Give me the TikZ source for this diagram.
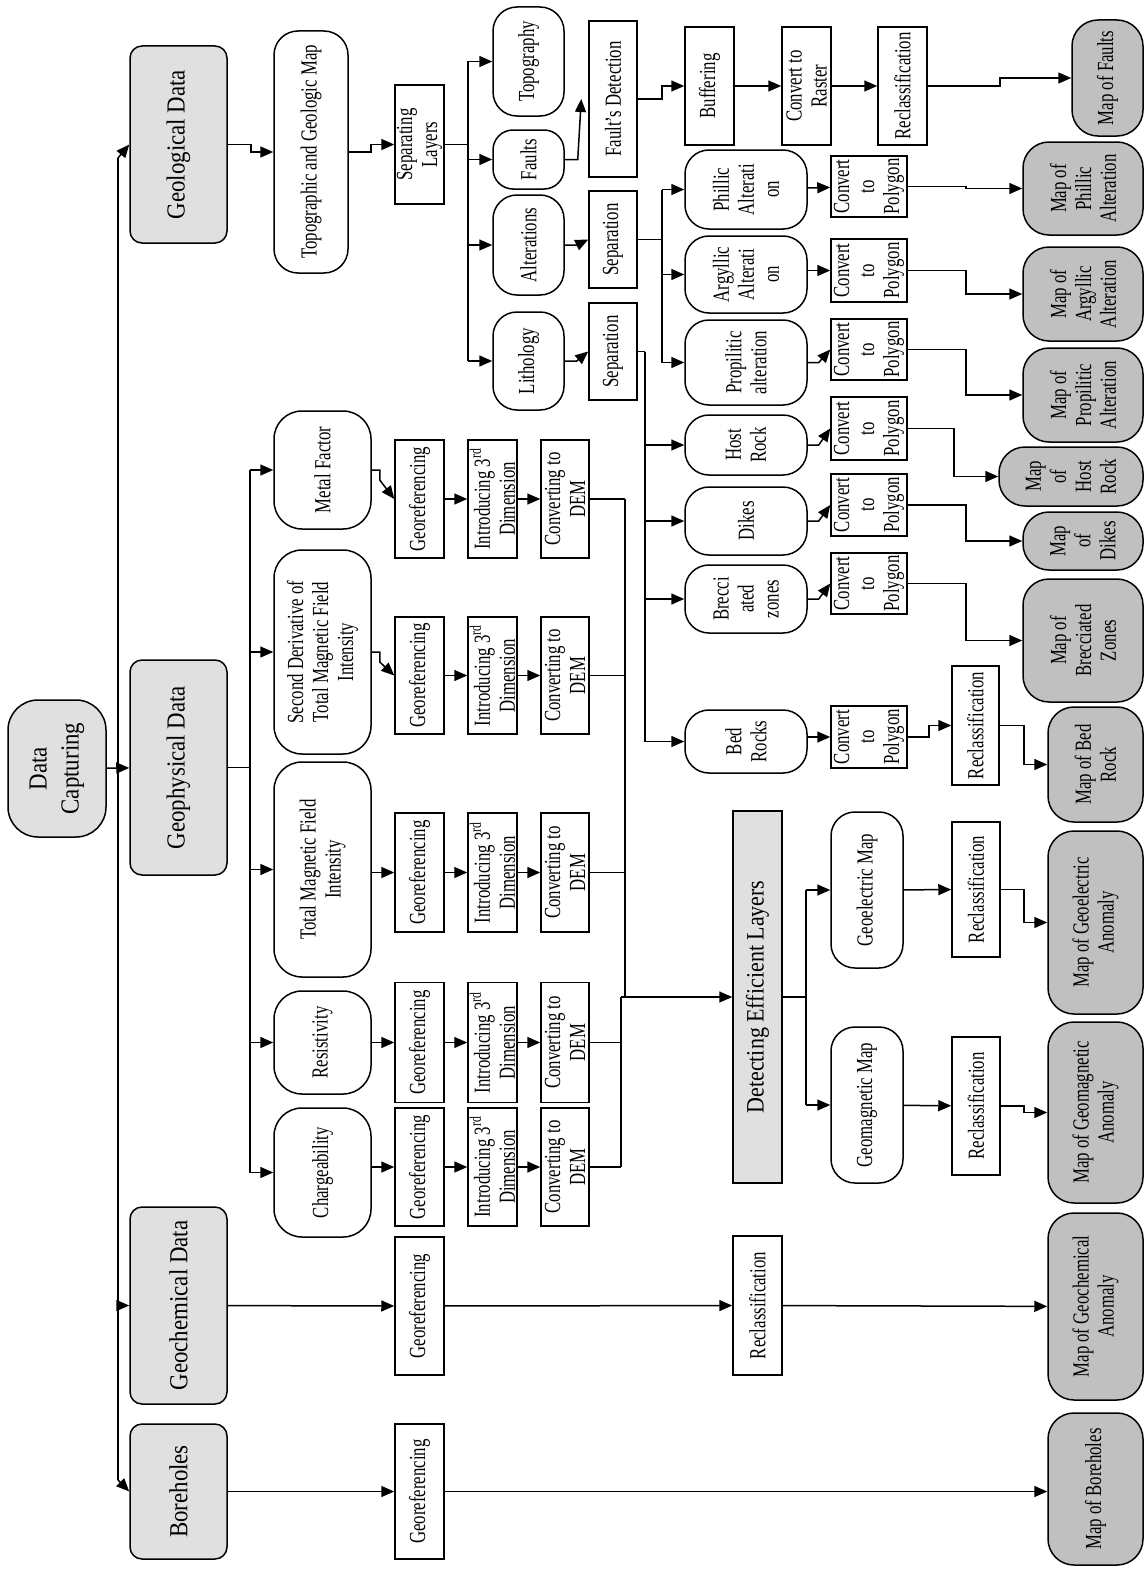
\documentclass[tikz,border=0pt]{standalone}
\usepackage{fontspec}
\setmainfont{Liberation Serif}[FakeStretch=0.73]
\newfontfamily\bigfont{Liberation Serif}[FakeStretch=0.88]
\usepackage{xcolor}
\usetikzlibrary{arrows.meta}
\definecolor{ingray}{HTML}{E0E0E0}
\definecolor{mapgray}{HTML}{C0C0C0}

\begin{document}
\begin{tikzpicture}[x=1pt, y=-1pt, line width=1.5pt, >={Triangle[length=13pt,width=11pt]},
  every node/.style={rotate=90, align=center, inner sep=1pt, font=\fontsize{23}{25}\selectfont},
  dims/.style 2 args={minimum height=#1, minimum width=#2},
  box/.style={draw},
  rbox/.style={draw, rounded corners=24pt},
  inbox/.style={draw, fill=ingray, rounded corners=12pt, font=\bigfont\fontsize{26}{32}\selectfont},
  mapbox/.style={draw, fill=mapgray, rounded corners=26pt}]
  \fill[white] (0,0) rectangle (1145,1571);                % page
  % data sources
  \node[inbox, rounded corners=30pt, dims={98pt}{137pt}] (capture) at (57,768.5) {Data\\Capturing};
  \node[inbox, dims={97pt}{197pt}] (geol) at (178.5,144.5) {Geological Data};
  \node[inbox, dims={97pt}{215pt}] (geoph) at (178.5,767.5) {Geophysical Data};
  \node[inbox, dims={97pt}{197pt}] (geoch) at (178.5,1305.5) {Geochemical Data};
  \node[inbox, dims={97pt}{135pt}] (bore) at (178.5,1491.5) {Boreholes};
  \coordinate (ct) at (118,158);
  \coordinate (cb) at (118,1480);
  \draw (ct) -- (cb);
  \draw[->] (ct) -- (geol.north);
  \draw[->] (ct |- geoch) -- (geoch.north);
  \draw[->] (cb) -- (bore.north);
  \draw[->] (capture) -- (geoph);

  % geological branch
  \node[rbox, dims={74pt}{242pt}] (topo) at (311,152) {Topographic and Geologic Map};
  \node[box, dims={49pt}{119pt}] (seplay) at (419.5,144.5) {Separating\\Layers};
  \node[rbox, dims={71pt}{109pt}] (topog) at (528.5,61.5) {Topography};
  \node[rbox, rounded corners=20pt, dims={71pt}{59pt}] (faults) at (528.5,159.5) {Faults};
  \node[rbox, dims={71pt}{100pt}] (alter) at (528.5,245) {Alterations};
  \node[rbox, dims={71pt}{98pt}] (litho) at (528.5,361) {Lithology};
  \node[box, dims={48pt}{156pt}] (faultdet) at (613,99) {Fault's Detection};
  \node[box, dims={48pt}{97pt}] (sepalt) at (613,239.5) {Separation};
  \node[box, dims={48pt}{97pt}] (seplith) at (613,351.5) {Separation};
  \node[box, dims={49pt}{118pt}] (buffer) at (709.5,86) {Buffering};
  \node[box, dims={49pt}{118pt}] (raster) at (806.5,86) {Convert to\\Raster};
  \node[box, dims={49pt}{118pt}] (reclf) at (902.5,86) {Reclassification};
  \node[mapbox, dims={71pt}{116pt}] (mapf) at (1107.5,78) {Map of Faults};
  \draw[->] (geol.south) -- ++(23,0) |- (topo.north);
  \draw[->] (topo.south) -- ++(22,0) |- (seplay.north);
  \coordinate (sl) at (468,144.5);
  \draw (seplay) -- (sl);
  \draw (sl |- topog) -- (sl |- litho);
  \foreach \n in {topog,faults,alter,litho} \draw[->] (sl |- \n) -- (\n.north);
  \draw[->] (faults.south) -- ++(13,0) -- ([xshift=-7pt]faultdet.north);
  \draw[->] (faultdet.south) -- ++(24,0) |- (buffer.north);
  \draw[->] (buffer) -- (raster);
  \draw[->] (raster) -- (reclf);
  \draw[->] (reclf.south) -- ++(72,0) |- (mapf.north);
  \draw[->] (alter.south) -- ++(12,0) -- (sepalt.north);
  \draw[->] (litho.south) -- ++(12,0) -- (seplith.north);

  % alterations and lithology units
  \node[rbox, dims={122pt}{79pt}] (phil) at (746,189.5) {Phillic\\Alterati\\on};
  \node[rbox, dims={122pt}{77pt}] (argy) at (746,274.5) {Argyllic\\Alterati\\on};
  \node[rbox, dims={122pt}{85pt}] (prop) at (746,362.5) {Propilitic\\alteration};
  \node[rbox, dims={122pt}{60pt}] (host) at (746,445) {Host\\Rock};
  \node[rbox, dims={122pt}{68pt}] (dikes) at (746,521) {Dikes};
  \node[rbox, dims={122pt}{68pt}] (brec) at (746,599) {Brecci\\ated\\zones};
  \node[rbox, dims={122pt}{63pt}] (bed) at (746,741.5) {Bed\\Rocks};
  \coordinate (sa) at (662,239.5);
  \draw (sepalt) -- (sa);
  \draw (sa |- phil) -- (sa |- prop);
  \foreach \n in {phil,argy,prop} \draw[->] (sa |- \n) -- (\n.north);
  \coordinate (sr) at (645,351.5);
  \draw (seplith) -- (sr);
  \draw (sr) -- (sr |- bed);
  \foreach \n in {host,dikes,brec,bed} \draw[->] (sr |- \n) -- (\n.north);

  \foreach \i/\y/\h in {1/186.5/61, 2/270.5/63, 3/349.5/61, 4/428.5/63, 5/505/62, 6/583.5/61, 7/737/62}
    \node[box, dims={76pt}{\h pt}] (cp\i) at (869,\y) {Convert\\to\\Polygon};
  \draw[->] (phil) -- (cp1);
  \draw[->] (argy.south |- cp2) -- (cp2.north);
  \draw[->] (prop.south) -- ++(11,0) -- (cp3.north);
  \draw[->] (host.south) -- ++(11,0) -- (cp4.north);
  \draw[->] (dikes.south) -- ++(11,0) -- (cp5.north);
  \draw[->] (brec.south) -- ++(11,0) -- (cp6.north);
  \draw[->] (bed.south |- cp7) -- (cp7.north);

  \node[mapbox, dims={120pt}{93pt}] (mphil) at (1083,188.5) {Map of\\Phillic\\Alteration};
  \node[mapbox, dims={120pt}{94pt}] (margy) at (1083,294) {Map of\\Argyllic\\Alteration};
  \node[mapbox, dims={120pt}{94pt}] (mprop) at (1083,395) {Map of\\Propilitic\\Alteration};
  \node[mapbox, dims={144pt}{59pt}] (mhost) at (1071,476.5) {Map\\of\\Host\\Rock};
  \node[mapbox, dims={120pt}{58pt}] (mdikes) at (1083,541) {Map\\of\\Dikes};
  \node[mapbox, dims={120pt}{123pt}] (mbrec) at (1083,640.5) {Map of\\Brecciated\\Zones};
  \node[box, dims={47pt}{119pt}] (reclb) at (975.5,725.5) {Reclassification};
  \node[mapbox, dims={95pt}{115pt}] (mbed) at (1095.5,764.5) {Map of Bed\\Rock};
  \draw[->] (cp1.south) -- ++(58,0) |- (mphil.north);
  \draw[->] (cp2.south) -- ++(58,0) |- (margy.north);
  \draw[->] (cp3.south) -- ++(58,0) |- (mprop.north);
  \draw[->] (cp4.south) -- ++(46,0) |- (mhost.north);
  \draw[->] (cp5.south) -- ++(58,0) |- (mdikes.north);
  \draw[->] (cp6.south) -- ++(58,0) |- (mbrec.north);
  \draw[->] (cp7.south) -- ++(21,0) |- (reclb.north);
  \draw[->] (reclb.south) -- ++(24,0) |- (mbed.north);

  % geophysical branch
  \node[rbox, rounded corners=28pt, dims={97pt}{118pt}] (metal) at (322.5,470) {Metal Factor};
  \node[rbox, rounded corners=28pt, dims={97pt}{204pt}] (secder) at (322.5,652) {Second Derivative of\\Total Magnetic Field\\Intensity};
  \node[rbox, rounded corners=28pt, dims={97pt}{215pt}] (totmag) at (322.5,869.5) {Total Magnetic Field\\Intensity};
  \node[rbox, rounded corners=28pt, dims={97pt}{103pt}] (resist) at (322.5,1042.5) {Resistivity};
  \node[rbox, rounded corners=28pt, dims={97pt}{129pt}] (charge) at (322.5,1172.5) {Chargeability};
  \coordinate (gp) at (250,767.5);
  \draw (geoph) -- (gp);
  \draw (gp |- metal) -- (gp |- charge);
  \foreach \n in {metal,secder,totmag,resist,charge} \draw[->] (gp |- \n) -- (\n.north);

  \foreach \i/\y/\h in {1/499/118, 2/675.5/117, 3/872.5/119, 4/1042.5/120, 5/1167/118} {
    \node[box, dims={49pt}{\h pt}] (gr\i) at (419.5,\y) {Georeferencing};
    \node[box, dims={49pt}{\h pt}] (in\i) at (492.5,\y) {Introducing 3\textsuperscript{rd}\\Dimension};
    \node[box, dims={48pt}{\h pt}] (cv\i) at (565,\y) {Converting to\\DEM};
    \draw[->] (gr\i) -- (in\i);
    \draw[->] (in\i) -- (cv\i);
  }
  \draw[->] (metal.south) -- ++(8,0) -- ++(0,10) -- (gr1.north);
  \draw[->] (secder.south) -- ++(8,0) -- ++(0,10) -- (gr2.north);
  \draw[->] (totmag.south |- gr3) -- (gr3.north);
  \draw[->] (resist.south |- gr4) -- (gr4.north);
  \draw[->] (charge.south |- gr5) -- (gr5.north);

  % merging the DEMs
  \node[box, fill=ingray, dims={49pt}{372pt}, font=\bigfont\fontsize{25}{30}\selectfont] (detect) at (757.5,997) {Detecting Efficient Layers};
  \coordinate (dt) at (625,997);
  \coordinate (db) at (621,997);
  \foreach \i in {1,2,3} \draw (cv\i) -- (dt |- cv\i);
  \draw (dt |- cv1) -- (dt);
  \foreach \i in {4,5} \draw (cv\i) -- (db |- cv\i);
  \draw (db |- cv5) -- (db);
  \draw[->] (db) -- (detect.north);

  \node[rbox, dims={72pt}{156pt}] (gelec) at (867,890) {Geoelectric Map};
  \node[rbox, dims={72pt}{156pt}] (gmag) at (867,1105) {Geomagnetic Map};
  \node[box, dims={48pt}{135pt}] (recle) at (976,889.5) {Reclassification};
  \node[box, dims={48pt}{138pt}] (reclm) at (976,1106) {Reclassification};
  \node[mapbox, dims={95pt}{183pt}] (melec) at (1095.5,922.5) {Map of Geoelectric\\Anomaly};
  \node[mapbox, dims={95pt}{181pt}] (mmag) at (1095.5,1112.5) {Map of Geomagnetic\\Anomaly};
  \coordinate (dl) at (806,997);
  \draw (detect) -- (dl);
  \draw (dl |- gelec) -- (dl |- gmag);
  \draw[->] (dl |- gelec) -- (gelec.north);
  \draw[->] (dl |- gmag) -- (gmag.north);
  \draw[->] (gelec) -- (recle);
  \draw[->] (gmag) -- (reclm);
  \draw[->] (recle.south) -- ++(23,0) |- (melec.north);
  \draw[->] (reclm.south) -- ++(23,0) |- (mmag.north);

  % geochemical data and boreholes
  \node[box, dims={49pt}{138pt}] (grc) at (419.5,1306) {Georeferencing};
  \node[box, dims={49pt}{139pt}] (reclc) at (757.5,1305.5) {Reclassification};
  \node[mapbox, dims={95pt}{187pt}] (mchem) at (1095.5,1306.5) {Map of Geochemical\\Anomaly};
  \node[box, dims={49pt}{135pt}] (grb) at (419.5,1491.5) {Georeferencing};
  \node[mapbox, dims={95pt}{152pt}] (mbore) at (1095.5,1489) {Map of Boreholes};
  \draw[->] (geoch) -- (grc);
  \draw[->] (grc) -- (reclc);
  \draw[->] (reclc) -- (mchem);
  \draw[->] (bore) -- (grb);
  \draw[->] (grb.south) -- (grb.south -| mbore.north);
\end{tikzpicture}
\end{document}
